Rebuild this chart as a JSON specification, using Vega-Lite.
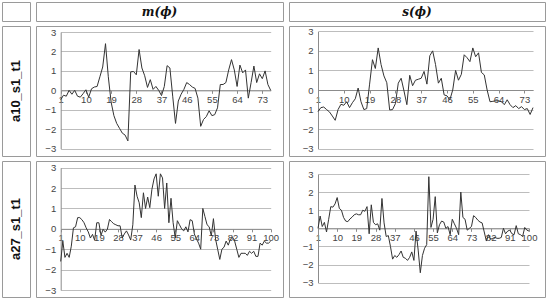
{
 "$schema": "https://vega.github.io/schema/vega-lite/v6.json",
 "padding": 1,
 "background": "white",
 "spacing": 3,
 "config": {
  "font": "Liberation Sans",
  "view": {"stroke": "#9a9a9a", "strokeWidth": 1},
  "axis": {"labelFont": "Liberation Sans", "labelFontSize": 9.5, "labelColor": "#444", "domainColor": "#8c8c8c", "tickColor": "#8c8c8c", "gridColor": "#bdbdbd", "title": null, "labelFlush": false, "labelOverlap": false}
 },
 "datasets": {
  "A": [{"i":1,"v":-0.48},{"i":2,"v":-0.25},{"i":3,"v":-0.3},{"i":4,"v":0.0},{"i":5,"v":-0.2},{"i":6,"v":0.0},{"i":7,"v":-0.3},{"i":8,"v":-0.35},{"i":9,"v":-0.17},{"i":10,"v":0.03},{"i":11,"v":-0.35},{"i":12,"v":0.08},{"i":13,"v":0.17},{"i":14,"v":0.2},{"i":15,"v":0.7},{"i":16,"v":1.2},{"i":17,"v":2.4},{"i":18,"v":0.7},{"i":19,"v":-0.6},{"i":20,"v":-1.3},{"i":21,"v":-1.7},{"i":22,"v":-1.95},{"i":23,"v":-2.2},{"i":24,"v":-2.3},{"i":25,"v":-2.6},{"i":26,"v":0.95},{"i":27,"v":0.97},{"i":28,"v":0.8},{"i":29,"v":2.1},{"i":30,"v":1.15},{"i":31,"v":0.75},{"i":32,"v":0.15},{"i":33,"v":0.55},{"i":34,"v":0.05},{"i":35,"v":0.2},{"i":36,"v":0.0},{"i":37,"v":-0.27},{"i":38,"v":0.2},{"i":39,"v":1.27},{"i":40,"v":1.15},{"i":41,"v":-0.3},{"i":42,"v":-1.7},{"i":43,"v":-0.55},{"i":44,"v":-0.2},{"i":45,"v":0.05},{"i":46,"v":0.4},{"i":47,"v":0.3},{"i":48,"v":0.17},{"i":49,"v":0.1},{"i":50,"v":-0.4},{"i":51,"v":-1.85},{"i":52,"v":-1.5},{"i":53,"v":-1.35},{"i":54,"v":-1.05},{"i":55,"v":-1.3},{"i":56,"v":-1.25},{"i":57,"v":-0.9},{"i":58,"v":0.3},{"i":59,"v":0.3},{"i":60,"v":0.4},{"i":61,"v":1.05},{"i":62,"v":1.58},{"i":63,"v":1.05},{"i":64,"v":0.2},{"i":65,"v":1.3},{"i":66,"v":0.9},{"i":67,"v":1.05},{"i":68,"v":-0.4},{"i":69,"v":0.4},{"i":70,"v":1.25},{"i":71,"v":0.4},{"i":72,"v":0.85},{"i":73,"v":0.6},{"i":74,"v":1.0},{"i":75,"v":0.3},{"i":76,"v":0.0}],
  "B": [{"i":1,"v":-1.1},{"i":2,"v":-0.9},{"i":3,"v":-0.87},{"i":4,"v":-1.0},{"i":5,"v":-1.12},{"i":6,"v":-1.33},{"i":7,"v":-1.55},{"i":8,"v":-1.0},{"i":9,"v":-0.73},{"i":10,"v":-0.78},{"i":11,"v":-0.6},{"i":12,"v":-0.9},{"i":13,"v":-0.65},{"i":14,"v":-0.45},{"i":15,"v":0.1},{"i":16,"v":-0.6},{"i":17,"v":-1.0},{"i":18,"v":-0.95},{"i":19,"v":0.3},{"i":20,"v":1.55},{"i":21,"v":1.1},{"i":22,"v":2.15},{"i":23,"v":1.3},{"i":24,"v":0.72},{"i":25,"v":0.37},{"i":26,"v":-1.02},{"i":27,"v":-1.0},{"i":28,"v":-0.7},{"i":29,"v":0.35},{"i":30,"v":0.6},{"i":31,"v":-0.05},{"i":32,"v":-0.75},{"i":33,"v":0.75},{"i":34,"v":0.22},{"i":35,"v":0.5},{"i":36,"v":0.55},{"i":37,"v":0.6},{"i":38,"v":0.95},{"i":39,"v":0.3},{"i":40,"v":1.75},{"i":41,"v":2.0},{"i":42,"v":1.3},{"i":43,"v":0.35},{"i":44,"v":0.6},{"i":45,"v":-0.25},{"i":46,"v":-0.3},{"i":47,"v":-0.5},{"i":48,"v":0.0},{"i":49,"v":1.0},{"i":50,"v":0.5},{"i":51,"v":0.8},{"i":52,"v":1.8},{"i":53,"v":1.65},{"i":54,"v":1.45},{"i":55,"v":2.15},{"i":56,"v":1.7},{"i":57,"v":1.9},{"i":58,"v":0.9},{"i":59,"v":0.77},{"i":60,"v":0.0},{"i":61,"v":-0.6},{"i":62,"v":-0.58},{"i":63,"v":-0.55},{"i":64,"v":-0.56},{"i":65,"v":-0.6},{"i":66,"v":-0.75},{"i":67,"v":-0.5},{"i":68,"v":-0.75},{"i":69,"v":-0.9},{"i":70,"v":-0.8},{"i":71,"v":-0.95},{"i":72,"v":-0.85},{"i":73,"v":-1.0},{"i":74,"v":-0.95},{"i":75,"v":-1.25},{"i":76,"v":-0.9}],
  "C": [{"i":1,"v":-1.6},{"i":2,"v":-0.6},{"i":3,"v":-1.4},{"i":4,"v":-1.2},{"i":5,"v":-1.4},{"i":6,"v":-0.85},{"i":7,"v":0.05},{"i":8,"v":0.1},{"i":9,"v":0.55},{"i":10,"v":0.55},{"i":11,"v":0.45},{"i":12,"v":0.3},{"i":13,"v":0.05},{"i":14,"v":-0.15},{"i":15,"v":-0.45},{"i":16,"v":-0.27},{"i":17,"v":-0.56},{"i":18,"v":0.3},{"i":19,"v":0.3},{"i":20,"v":-0.32},{"i":21,"v":-0.02},{"i":22,"v":-0.16},{"i":23,"v":-0.02},{"i":24,"v":0.46},{"i":25,"v":0.35},{"i":26,"v":0.25},{"i":27,"v":0.2},{"i":28,"v":0.15},{"i":29,"v":0.15},{"i":30,"v":-0.45},{"i":31,"v":-0.25},{"i":32,"v":-0.1},{"i":33,"v":-0.3},{"i":34,"v":-0.55},{"i":35,"v":0.2},{"i":36,"v":2.15},{"i":37,"v":1.6},{"i":38,"v":1.28},{"i":39,"v":0.55},{"i":40,"v":1.77},{"i":41,"v":1.0},{"i":42,"v":1.56},{"i":43,"v":1.04},{"i":44,"v":1.94},{"i":45,"v":2.45},{"i":46,"v":2.7},{"i":47,"v":1.6},{"i":48,"v":2.7},{"i":49,"v":2.5},{"i":50,"v":1.0},{"i":51,"v":2.25},{"i":52,"v":0.3},{"i":53,"v":1.5},{"i":54,"v":0.3},{"i":55,"v":-0.45},{"i":56,"v":0.4},{"i":57,"v":0.2},{"i":58,"v":0.0},{"i":59,"v":-0.1},{"i":60,"v":0.1},{"i":61,"v":-0.15},{"i":62,"v":0.45},{"i":63,"v":0.4},{"i":64,"v":-0.25},{"i":65,"v":-0.5},{"i":66,"v":-0.7},{"i":67,"v":-1.0},{"i":68,"v":1.0},{"i":69,"v":0.6},{"i":70,"v":0.2},{"i":71,"v":0.1},{"i":72,"v":-0.35},{"i":73,"v":0.5},{"i":74,"v":-0.5},{"i":75,"v":-1.0},{"i":76,"v":-1.5},{"i":77,"v":-1.0},{"i":78,"v":-0.9},{"i":79,"v":-0.6},{"i":80,"v":-0.8},{"i":81,"v":-0.5},{"i":82,"v":-0.4},{"i":83,"v":-0.6},{"i":84,"v":-1.0},{"i":85,"v":-1.4},{"i":86,"v":-1.2},{"i":87,"v":-1.2},{"i":88,"v":-1.2},{"i":89,"v":-1.3},{"i":90,"v":-1.1},{"i":91,"v":-1.2},{"i":92,"v":-1.1},{"i":93,"v":-1.35},{"i":94,"v":-1.35},{"i":95,"v":-0.7},{"i":96,"v":-0.8},{"i":97,"v":-0.6},{"i":98,"v":-0.7},{"i":99,"v":-0.7},{"i":100,"v":-0.6}],
  "D": [{"i":1,"v":0.0},{"i":2,"v":0.68},{"i":3,"v":0.1},{"i":4,"v":0.33},{"i":5,"v":-0.2},{"i":6,"v":0.5},{"i":7,"v":1.2},{"i":8,"v":1.17},{"i":9,"v":1.35},{"i":10,"v":1.7},{"i":11,"v":1.1},{"i":12,"v":1.0},{"i":13,"v":0.6},{"i":14,"v":0.4},{"i":15,"v":0.37},{"i":16,"v":0.52},{"i":17,"v":0.62},{"i":18,"v":0.75},{"i":19,"v":0.8},{"i":20,"v":0.75},{"i":21,"v":0.75},{"i":22,"v":1.0},{"i":23,"v":0.94},{"i":24,"v":1.2},{"i":25,"v":-0.3},{"i":26,"v":1.3},{"i":27,"v":0.33},{"i":28,"v":0.2},{"i":29,"v":0.25},{"i":30,"v":-0.1},{"i":31,"v":1.65},{"i":32,"v":0.3},{"i":33,"v":-0.45},{"i":34,"v":-0.4},{"i":35,"v":-1.0},{"i":36,"v":-1.7},{"i":37,"v":-1.5},{"i":38,"v":-1.6},{"i":39,"v":-1.45},{"i":40,"v":-1.25},{"i":41,"v":-1.6},{"i":42,"v":-1.65},{"i":43,"v":-1.77},{"i":44,"v":-1.6},{"i":45,"v":-1.3},{"i":46,"v":-1.77},{"i":47,"v":-0.15},{"i":48,"v":-1.2},{"i":49,"v":-2.45},{"i":50,"v":-1.5},{"i":51,"v":-1.1},{"i":52,"v":-0.9},{"i":53,"v":2.85},{"i":54,"v":0.05},{"i":55,"v":0.5},{"i":56,"v":1.75},{"i":57,"v":-0.25},{"i":58,"v":0.2},{"i":59,"v":0.4},{"i":60,"v":0.35},{"i":61,"v":0.0},{"i":62,"v":0.1},{"i":63,"v":-0.35},{"i":64,"v":0.5},{"i":65,"v":0.25},{"i":66,"v":0.0},{"i":67,"v":-0.35},{"i":68,"v":2.0},{"i":69,"v":0.6},{"i":70,"v":0.5},{"i":71,"v":-0.1},{"i":72,"v":0.0},{"i":73,"v":0.1},{"i":74,"v":0.7},{"i":75,"v":0.6},{"i":76,"v":0.45},{"i":77,"v":0.35},{"i":78,"v":0.3},{"i":79,"v":-0.2},{"i":80,"v":-0.7},{"i":81,"v":-0.35},{"i":82,"v":-0.6},{"i":83,"v":-0.55},{"i":84,"v":-0.5},{"i":85,"v":-0.55},{"i":86,"v":-0.55},{"i":87,"v":-0.5},{"i":88,"v":0.0},{"i":89,"v":-0.3},{"i":90,"v":-0.15},{"i":91,"v":-0.1},{"i":92,"v":-0.3},{"i":93,"v":-0.35},{"i":94,"v":0.15},{"i":95,"v":-0.3},{"i":96,"v":-0.35},{"i":97,"v":-0.45},{"i":98,"v":0.05},{"i":99,"v":-0.1},{"i":100,"v":-0.15}],
  "corner": [{"t": ""}],
  "hm": [{"t": "m(ϕ)"}],
  "hs": [{"t": "s(ϕ)"}],
  "r1": [{"t": "a10_s1_t1"}],
  "r2": [{"t": "a27_s1_t1"}]
 },
 "vconcat": [
  {
   "spacing": 4,
   "hconcat": [
    {"width": 28, "height": 19, "data": {"name": "corner"}, "mark": {"type": "text"},
     "encoding": {"text": {"field": "t"},
      "x": {"datum": 0, "type": "quantitative", "scale": {"domain": [-1, 1]}, "axis": null},
      "y": {"datum": 0, "type": "quantitative", "scale": {"domain": [-1, 1]}, "axis": null}}},
    {"width": 247, "height": 19, "data": {"name": "hm"}, "mark": {"type": "text", "font": "DejaVu Serif", "fontStyle": "italic", "fontWeight": "bold", "fontSize": 12, "color": "#111"},
     "encoding": {"text": {"field": "t"},
      "x": {"datum": 0, "type": "quantitative", "scale": {"domain": [-1, 1]}, "axis": null},
      "y": {"datum": 0, "type": "quantitative", "scale": {"domain": [-1, 1]}, "axis": null}}},
    {"width": 256, "height": 19, "data": {"name": "hs"}, "mark": {"type": "text", "font": "DejaVu Serif", "fontStyle": "italic", "fontWeight": "bold", "fontSize": 12, "color": "#111"},
     "encoding": {"text": {"field": "t"},
      "x": {"datum": 0, "type": "quantitative", "scale": {"domain": [-1, 1]}, "axis": null},
      "y": {"datum": 0, "type": "quantitative", "scale": {"domain": [-1, 1]}, "axis": null}}}
   ]
  },
  {
   "spacing": 4,
   "hconcat": [
    {"width": 28, "height": 130, "data": {"name": "r1"}, "mark": {"type": "text", "angle": 270, "fontWeight": "bold", "fontSize": 13, "color": "#111"},
     "encoding": {"text": {"field": "t"},
      "x": {"datum": 0, "type": "quantitative", "scale": {"domain": [-1, 1]}, "axis": null},
      "y": {"datum": 0, "type": "quantitative", "scale": {"domain": [-1, 1]}, "axis": null}}},
    {
     "width": 247, "height": 130, "data": {"name": "A"},
     "mark": {"type": "line", "color": "#333", "strokeWidth": 1},
     "encoding": {
      "x": {"field": "i", "type": "quantitative", "scale": {"domain": [1, 76], "range": [24.7, 234.7], "nice": false, "zero": false},
            "axis": {"values": [1,10,19,28,37,46,55,64,73], "offset": -65.65, "grid": false, "tickSize": 3, "labelPadding": 1}},
      "y": {"field": "v", "type": "quantitative", "scale": {"domain": [-3, 3], "range": [122.7, 6], "nice": false, "zero": false},
            "axis": {"values": [-3,-2,-1,0,1,2,3], "offset": -24.7, "grid": true, "ticks": false, "labelPadding": 5}}
     }
    },
    {
     "width": 256, "height": 130, "data": {"name": "B"},
     "mark": {"type": "line", "color": "#333", "strokeWidth": 1},
     "encoding": {
      "x": {"field": "i", "type": "quantitative", "scale": {"domain": [1, 76], "range": [29, 244], "nice": false, "zero": false},
            "axis": {"values": [1,10,19,28,37,46,55,64,73], "offset": -66, "grid": false, "tickSize": 3, "labelPadding": 1}},
      "y": {"field": "v", "type": "quantitative", "scale": {"domain": [-3, 3], "range": [122.7, 5.3], "nice": false, "zero": false},
            "axis": {"values": [-3,-2,-1,0,1,2,3], "offset": -29, "grid": true, "ticks": false, "labelPadding": 5}}
     }
    }
   ]
  },
  {
   "spacing": 4,
   "hconcat": [
    {"width": 28, "height": 136, "data": {"name": "r2"}, "mark": {"type": "text", "angle": 270, "fontWeight": "bold", "fontSize": 13, "color": "#111"},
     "encoding": {"text": {"field": "t"},
      "x": {"datum": 0, "type": "quantitative", "scale": {"domain": [-1, 1]}, "axis": null},
      "y": {"datum": 0, "type": "quantitative", "scale": {"domain": [-1, 1]}, "axis": null}}},
    {
     "width": 247, "height": 136, "data": {"name": "C"},
     "mark": {"type": "line", "color": "#333", "strokeWidth": 1},
     "encoding": {
      "x": {"field": "i", "type": "quantitative", "scale": {"domain": [1, 100], "range": [24.7, 234.7], "nice": false, "zero": false},
            "axis": {"values": [1,10,19,28,37,46,55,64,73,82,91,100], "offset": -68.15, "grid": false, "tickSize": 3, "labelPadding": 1}},
      "y": {"field": "v", "type": "quantitative", "scale": {"domain": [-3, 3], "range": [129, 6.7], "nice": false, "zero": false},
            "axis": {"values": [-3,-2,-1,0,1,2,3], "offset": -24.7, "grid": true, "ticks": false, "labelPadding": 5}}
     }
    },
    {
     "width": 256, "height": 136, "data": {"name": "D"},
     "mark": {"type": "line", "color": "#333", "strokeWidth": 1},
     "encoding": {
      "x": {"field": "i", "type": "quantitative", "scale": {"domain": [1, 100], "range": [29, 240], "nice": false, "zero": false},
            "axis": {"values": [1,10,19,28,37,46,55,64,73,82,91,100], "offset": -68.65, "grid": false, "tickSize": 3, "labelPadding": 1}},
      "y": {"field": "v", "type": "quantitative", "scale": {"domain": [-3, 3], "range": [121.7, 13], "nice": false, "zero": false},
            "axis": {"values": [-3,-2,-1,0,1,2,3], "offset": -29, "grid": true, "ticks": false, "labelPadding": 5}}
     }
    }
   ]
  }
 ]
}
